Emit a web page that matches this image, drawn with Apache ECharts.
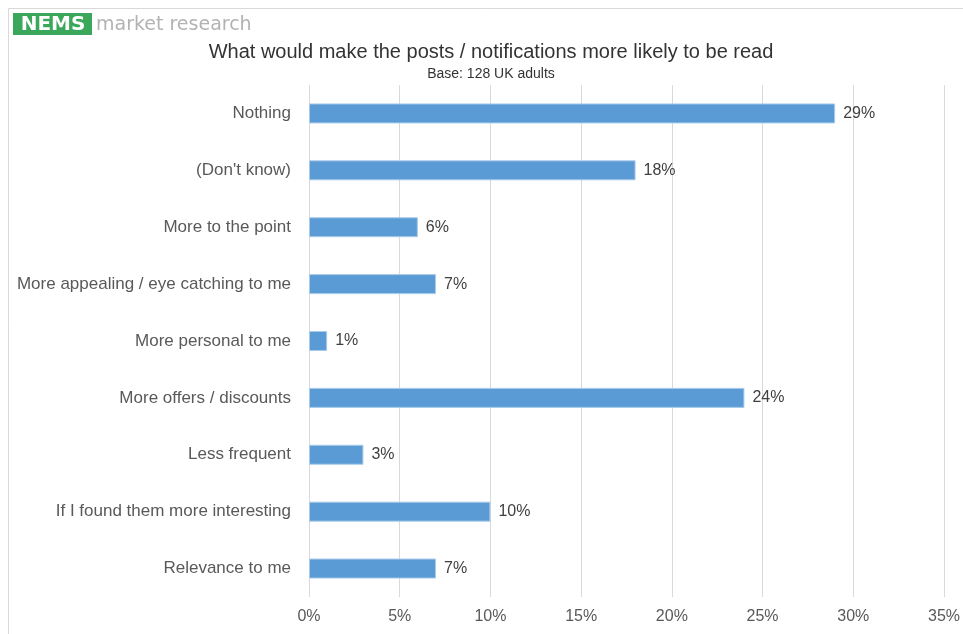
<!DOCTYPE html>
<html>
<head>
<meta charset="utf-8">
<script src="https://cdn.jsdelivr.net/npm/echarts@6/dist/echarts.min.js"></script>
<style>
  html, body { margin: 0; padding: 0; background: #ffffff; }
  #chart { width: 963px; height: 634px; }
</style>
</head>
<body>
<div id="chart"></div>
<script>
// Survey answers, top to bottom
const categories = [
  'Nothing',
  "(Don't know)",
  'More to the point',
  'More appealing / eye catching to me',
  'More personal to me',
  'More offers / discounts',
  'Less frequent',
  'If I found them more interesting',
  'Relevance to me'
];
// Share of respondents (%)
const shares = [29, 18, 6, 7, 1, 24, 3, 10, 7];
// Value axis ticks (%)
const tickValues = [0, 5, 10, 15, 20, 25, 30, 35];

const titleText = 'What would make the posts / notifications more likely to be read';
const subtitleText = 'Base: 128 UK adults';

const font = '"Liberation Sans", Arial, sans-serif';

const chart = echarts.init(document.getElementById('chart'));
chart.setOption({
  animation: false,
  backgroundColor: '#ffffff',
  title: {
    text: titleText,
    subtext: subtitleText,
    left: 486,
    textAlign: 'center',
    top: 37,
    itemGap: 5,
    textStyle: { fontFamily: font, fontSize: 20, fontWeight: 'normal', color: '#333333' },
    subtextStyle: { fontFamily: font, fontSize: 14, color: '#333333' }
  },
  grid: { left: 309, right: 19, top: 85, bottom: 37, containLabel: false },
  xAxis: {
    type: 'value',
    min: tickValues[0],
    max: tickValues[tickValues.length - 1],
    interval: 5,
    axisLine: { show: false },
    axisTick: { show: false },
    splitLine: { show: true, lineStyle: { color: '#d9d9d9', width: 1 } },
    axisLabel: {
      formatter: v => v + '%',
      fontFamily: font, fontSize: 16, color: '#595959', margin: 12
    }
  },
  yAxis: {
    type: 'category',
    data: categories,
    inverse: true,
    axisLine: { show: false },
    axisTick: { show: false },
    axisLabel: { fontFamily: font, fontSize: 17, color: '#595959', margin: 18 }
  },
  series: [{
    type: 'bar',
    data: shares,
    barWidth: 20,
    itemStyle: { color: '#5b9bd5', borderColor: '#a9cbea', borderWidth: 1 },
    label: {
      show: true,
      position: 'right',
      distance: 8,
      formatter: p => p.value + '%',
      fontFamily: font, fontSize: 16, color: '#404040'
    }
  }],
  graphic: [
    {
      type: 'rect',
      shape: { x: 8.5, y: 8.5, width: 970, height: 640 },
      style: { fill: 'none', stroke: '#d9d9d9', lineWidth: 1 },
      silent: true
    },
    {
      type: 'rect',
      shape: { x: 13, y: 13, width: 79, height: 22 },
      style: { fill: '#3aa75a' }
    },
    {
      type: 'text',
      x: 53, y: 25,
      style: {
        text: 'NEMS', fill: '#ffffff', align: 'center', verticalAlign: 'middle',
        font: 'bold 20px "DejaVu Sans", sans-serif'
      }
    },
    {
      type: 'text',
      x: 96, y: 25,
      style: {
        text: 'market research', fill: '#b3b3b3', align: 'left', verticalAlign: 'middle',
        font: '19px "DejaVu Sans", sans-serif'
      }
    }
  ]
});
</script>
</body>
</html>
